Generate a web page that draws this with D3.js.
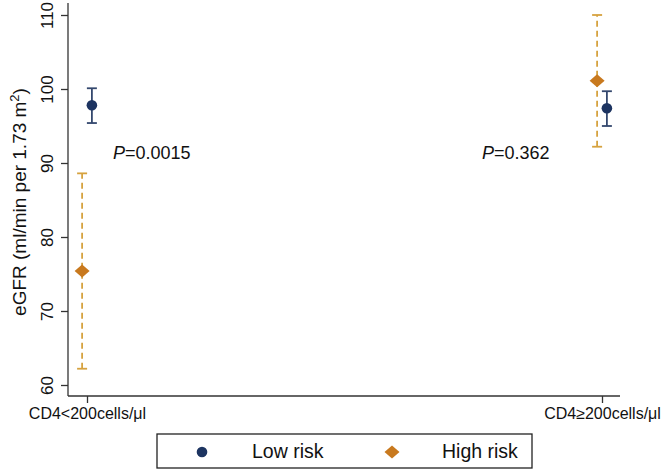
<!DOCTYPE html>
<html>
<head>
<meta charset="utf-8">
<script src="https://cdn.jsdelivr.net/npm/d3@7"></script>
<style>
  body { margin: 0; background: #fff; }
  svg text { font-family: "Liberation Sans", Arial, sans-serif; fill: #111; }
</style>
</head>
<body>
<script>
// data
var categories = ["CD4<200cells/μl", "CD4≥200cells/μl"];
var lowMean = [97.8, 97.4];
var lowLower = [95.4, 95.0];
var lowUpper = [100.1, 99.7];
var highMean = [75.4, 101.1];
var highLower = [62.2, 92.2];
var highUpper = [88.6, 110.0];
var pValues = ["0.0015", "0.362"];
var yTicks = [60, 70, 80, 90, 100, 110];
var seriesNames = ["Low risk", "High risk"];

var w = 664, h = 471;
var navy = "#1d3461", navyBar = "#34486e";
var orange = "#c8791e", gold = "#d6a23f";

var svg = d3.select("body").append("svg")
    .attr("width", w)
    .attr("height", h);

var x = d3.scaleLinear().domain([0, 1]).range([87, 602]);
var y = d3.scaleLinear().domain([60, 110]).range([385, 15]);
var shift = 0.0095; // small horizontal dodge between groups

var axisX = 68, axisY = 396;

// axes lines
svg.append("line")
    .attr("x1", axisX).attr("x2", axisX)
    .attr("y1", 3).attr("y2", axisY)
    .attr("stroke", "#333").attr("stroke-width", 1.3);
svg.append("line")
    .attr("x1", axisX).attr("x2", 620)
    .attr("y1", axisY).attr("y2", axisY)
    .attr("stroke", "#333").attr("stroke-width", 1.3);

// y axis
var yAxis = svg.append("g")
    .attr("transform", "translate(" + axisX + ",0)")
    .call(d3.axisLeft(y).tickValues(yTicks).tickSize(7).tickSizeOuter(0));
yAxis.select(".domain").remove();
yAxis.selectAll(".tick line").attr("stroke", "#333").attr("stroke-width", 1.3);
yAxis.selectAll(".tick text")
    .attr("x", 0).attr("y", -15).attr("dy", 0)
    .attr("transform", "rotate(-90)")
    .style("text-anchor", "middle")
    .style("font-size", "17px")
    .style("font-family", "Liberation Sans, Arial, sans-serif")
    .attr("fill", "#111");

// x axis
var xAxis = svg.append("g")
    .attr("transform", "translate(0," + axisY + ")")
    .call(d3.axisBottom(x).tickValues([0, 1]).tickSize(7).tickSizeOuter(0)
        .tickFormat(function (d) { return categories[d]; }));
xAxis.select(".domain").remove();
xAxis.selectAll(".tick line").attr("stroke", "#333").attr("stroke-width", 1.3);
xAxis.selectAll(".tick text")
    .attr("y", 23).attr("dy", 0)
    .style("font-size", "16px")
    .style("font-family", "Liberation Sans, Arial, sans-serif")
    .attr("fill", "#111");

// y title
var yTitle = svg.append("text")
    .attr("transform", "translate(26,202) rotate(-90)")
    .attr("text-anchor", "middle")
    .style("font-size", "19px");
yTitle.append("tspan").text("eGFR (ml/min per 1.73 m");
yTitle.append("tspan").attr("baseline-shift", "super").style("font-size", "13px").text("2");
yTitle.append("tspan").text(")");

// error bars
function errorBars(lower, upper, offset, color, dash) {
    var g = svg.append("g");
    var idx = d3.range(lower.length);
    g.selectAll(".bar").data(idx).enter().append("line")
        .attr("x1", function (i) { return x(i + offset); })
        .attr("x2", function (i) { return x(i + offset); })
        .attr("y1", function (i) { return y(lower[i]); })
        .attr("y2", function (i) { return y(upper[i]); })
        .attr("stroke", color).attr("stroke-width", 1.8)
        .attr("stroke-dasharray", dash);
    [lower, upper].forEach(function (arr) {
        g.selectAll(null).data(idx).enter().append("line")
            .attr("x1", function (i) { return x(i + offset) - 5; })
            .attr("x2", function (i) { return x(i + offset) + 5; })
            .attr("y1", function (i) { return y(arr[i]); })
            .attr("y2", function (i) { return y(arr[i]); })
            .attr("stroke", color).attr("stroke-width", 1.8);
    });
}
errorBars(highLower, highUpper, -shift, gold, "6,4");
errorBars(lowLower, lowUpper, shift, navyBar, null);

var diamond = "M0,-6.5L7.5,0L0,6.5L-7.5,0Z";

svg.append("g").selectAll("path").data(highMean).enter().append("path")
    .attr("d", diamond)
    .attr("transform", function (d, i) { return "translate(" + x(i - shift) + "," + y(d) + ")"; })
    .attr("fill", orange);

svg.append("g").selectAll("circle").data(lowMean).enter().append("circle")
    .attr("cx", function (d, i) { return x(i + shift); })
    .attr("cy", function (d) { return y(d); })
    .attr("r", 5.3)
    .attr("fill", navy);

// p values
var pX = [113, 482];
var pText = svg.append("g").selectAll("text").data(pValues).enter().append("text")
    .attr("x", function (d, i) { return pX[i]; })
    .attr("y", 159)
    .style("font-size", "18px");
pText.append("tspan").style("font-style", "italic").text("P");
pText.append("tspan").text(function (d) { return "=" + d; });

// legend
var legend = svg.append("g");
legend.append("rect")
    .attr("x", 157).attr("y", 434)
    .attr("width", 375).attr("height", 34)
    .attr("fill", "none").attr("stroke", "#222").attr("stroke-width", 1.3);
var legX = [202, 392];
legend.append("circle").attr("cx", legX[0]).attr("cy", 452).attr("r", 5.3).attr("fill", navy);
legend.append("path").attr("d", diamond)
    .attr("transform", "translate(" + legX[1] + ",452)").attr("fill", orange);
legend.selectAll(".lab").data(seriesNames).enter().append("text")
    .attr("x", function (d, i) { return legX[i] + 50; })
    .attr("y", 458)
    .style("font-size", "19.5px")
    .text(function (d) { return d; });
</script>
</body>
</html>
